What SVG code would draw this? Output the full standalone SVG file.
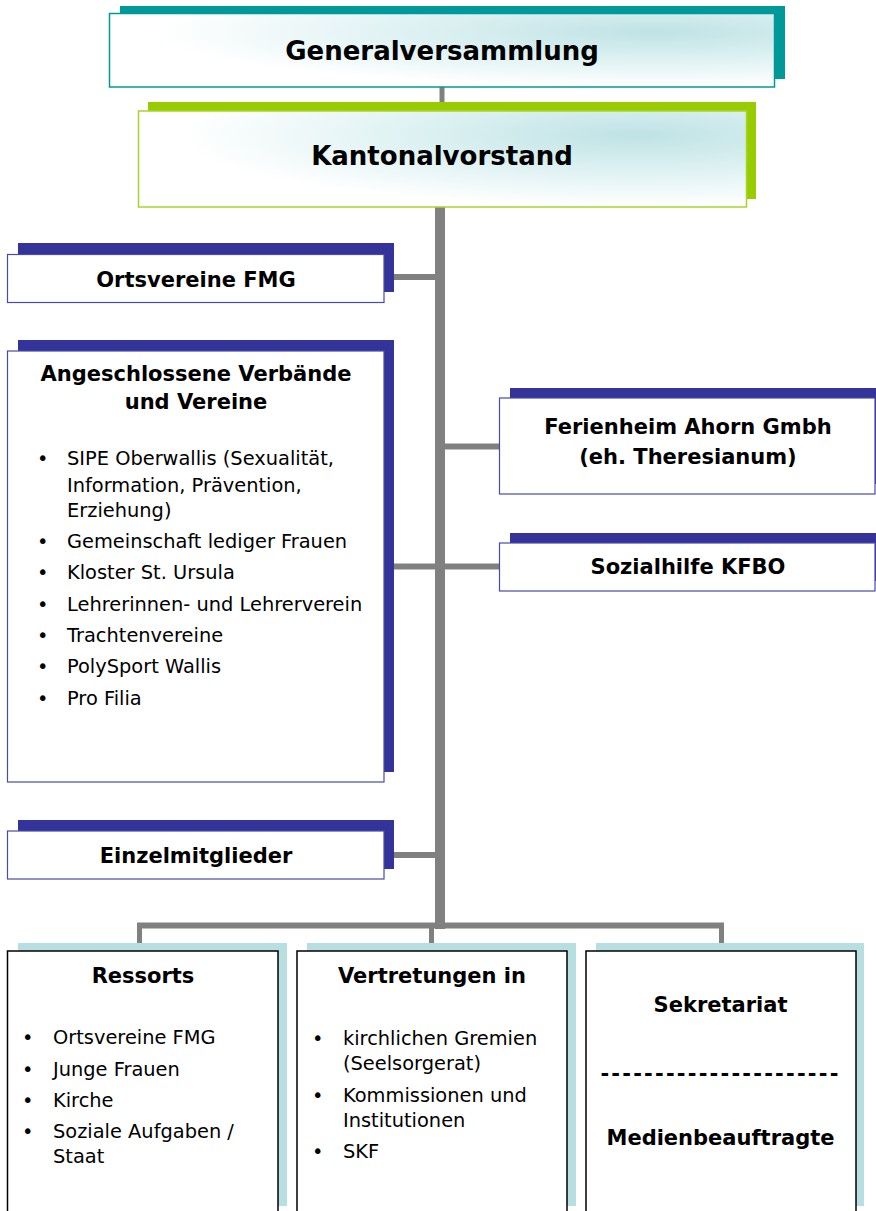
<svg xmlns="http://www.w3.org/2000/svg" width="876" height="1211" viewBox="0 0 876 1211">
<defs>
<radialGradient id="glow" cx="0.82" cy="0.25" r="0.75" fx="0.82" fy="0.25">
<stop offset="0" stop-color="#bfe2e5"/>
<stop offset="0.45" stop-color="#dbf0f1"/>
<stop offset="1" stop-color="#ffffff"/>
</radialGradient>
<style>
text{font-family:"DejaVu Sans","Liberation Sans",sans-serif;fill:#000}
.h1{font-size:26px;font-weight:bold;text-anchor:middle}
.h2{font-size:21px;font-weight:bold;text-anchor:middle}
.li{font-size:19.4px}
.navy{fill:#333399}
.navyf{fill:#fff;stroke:#4a4aa8;stroke-width:1.2}
.lb{fill:#b7dfe1}
.bf{fill:#fff;stroke:#000;stroke-width:1.5}
.con{stroke:#808080;fill:none}
</style>
</defs>
<rect width="876" height="1211" fill="#fff"/>
<g id="connectors" class="con">
<line x1="442" y1="86" x2="442" y2="103" stroke-width="5"/>
<line x1="440" y1="206" x2="440" y2="929" stroke-width="10"/>
<line x1="394" y1="277" x2="440" y2="277" stroke-width="6"/>
<line x1="440" y1="446.5" x2="500" y2="446.5" stroke-width="6"/>
<line x1="394" y1="566.5" x2="500" y2="566.5" stroke-width="6"/>
<line x1="394" y1="855" x2="440" y2="855" stroke-width="6"/>
<line x1="137" y1="925.5" x2="724" y2="925.5" stroke-width="6"/>
<line x1="139.5" y1="923" x2="139.5" y2="944" stroke-width="5"/>
<line x1="431.5" y1="926" x2="431.5" y2="944" stroke-width="5"/>
<line x1="721.5" y1="923" x2="721.5" y2="944" stroke-width="5"/>
</g>
<g id="generalversammlung">
<rect x="120" y="6" width="665" height="73" fill="#009999"/>
<rect x="109.5" y="13.5" width="665" height="73.5" fill="url(#glow)" stroke="#009999" stroke-width="1.5"/>
<text class="h1" x="442" y="60">Generalversammlung</text>
</g>
<g id="kantonalvorstand">
<rect x="148" y="102" width="608" height="97" fill="#99cc00"/>
<rect x="138.5" y="111" width="608" height="96" fill="url(#glow)" stroke="#a8d42a" stroke-width="1.5"/>
<text class="h1" x="442" y="165">Kantonalvorstand</text>
</g>
<g id="ortsvereine">
<rect class="navy" x="18" y="243" width="376" height="49"/>
<rect class="navyf" x="7.5" y="254.5" width="376.5" height="48"/>
<text class="h2" x="196" y="287">Ortsvereine FMG</text>
</g>
<g id="angeschlossene">
<rect class="navy" x="18" y="340" width="376" height="432"/>
<rect class="navyf" x="7.5" y="351" width="376.5" height="431"/>
<text class="h2" x="196" y="381">Angeschlossene Verbände</text>
<text class="h2" x="196" y="409">und Vereine</text>
<g class="li">
<text x="37" y="465">•</text><text x="67" y="465">SIPE Oberwallis (Sexualität,</text>
<text x="67" y="492">Information, Prävention,</text>
<text x="67" y="517">Erziehung)</text>
<text x="37" y="548">•</text><text x="67" y="548">Gemeinschaft lediger Frauen</text>
<text x="37" y="579">•</text><text x="67" y="579">Kloster St. Ursula</text>
<text x="37" y="611">•</text><text x="67" y="611">Lehrerinnen- und Lehrerverein</text>
<text x="37" y="642">•</text><text x="67" y="642">Trachtenvereine</text>
<text x="37" y="673">•</text><text x="67" y="673">PolySport Wallis</text>
<text x="37" y="705">•</text><text x="67" y="705">Pro Filia</text>
</g>
</g>
<g id="einzelmitglieder">
<rect class="navy" x="18" y="820" width="376" height="49"/>
<rect class="navyf" x="7.5" y="831" width="376.5" height="48"/>
<text class="h2" x="196" y="863">Einzelmitglieder</text>
</g>
<g id="ferienheim">
<rect class="navy" x="510" y="388" width="380" height="96"/>
<rect class="navyf" x="499.5" y="398" width="375.5" height="96"/>
<text class="h2" x="688" y="434">Ferienheim Ahorn Gmbh</text>
<text class="h2" x="688" y="464">(eh. Theresianum)</text>
</g>
<g id="sozialhilfe">
<rect class="navy" x="510" y="533" width="380" height="48"/>
<rect class="navyf" x="499.5" y="543" width="375.5" height="48"/>
<text class="h2" x="688" y="574">Sozialhilfe KFBO</text>
</g>
<g id="ressorts">
<rect class="lb" x="18" y="943" width="269" height="263"/>
<rect class="bf" x="7.5" y="951" width="270.5" height="275"/>
<text class="h2" x="143" y="983">Ressorts</text>
<g class="li">
<text x="22" y="1044">•</text><text x="53" y="1044">Ortsvereine FMG</text>
<text x="22" y="1076">•</text><text x="53" y="1076">Junge Frauen</text>
<text x="22" y="1107">•</text><text x="53" y="1107">Kirche</text>
<text x="22" y="1138">•</text><text x="53" y="1138">Soziale Aufgaben /</text>
<text x="53" y="1163">Staat</text>
</g>
</g>
<g id="vertretungen">
<rect class="lb" x="307" y="943" width="269" height="263"/>
<rect class="bf" x="297" y="951" width="270" height="275"/>
<text class="h2" x="432" y="983">Vertretungen in</text>
<g class="li">
<text x="312" y="1045">•</text><text x="343" y="1045">kirchlichen Gremien</text>
<text x="343" y="1070">(Seelsorgerat)</text>
<text x="312" y="1102">•</text><text x="343" y="1102">Kommissionen und</text>
<text x="343" y="1127">Institutionen</text>
<text x="312" y="1158">•</text><text x="343" y="1158">SKF</text>
</g>
</g>
<g id="sekretariat">
<rect class="lb" x="596" y="943" width="268" height="263"/>
<rect class="bf" x="586" y="951" width="270" height="275"/>
<text class="h2" x="720.5" y="1012">Sekretariat</text>
<text class="h2" x="720.5" y="1081" letter-spacing="2.2">----------------------</text>
<text class="h2" x="720.5" y="1145">Medienbeauftragte</text>
</g>
</svg>
